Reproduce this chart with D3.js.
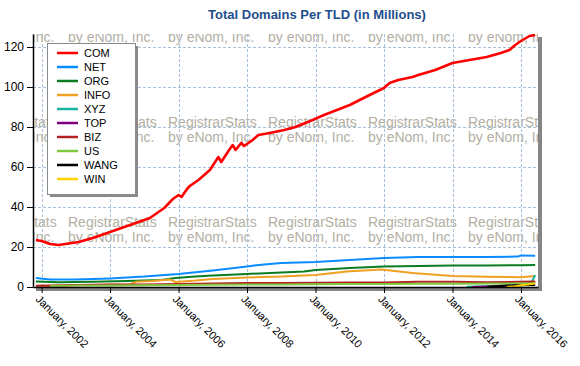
<!DOCTYPE html>
<html>
<head>
<meta charset="utf-8">
<script src="https://cdn.jsdelivr.net/npm/d3@7"></script>
<style>
  body { margin: 0; background: #fff; }
  svg { display: block; font-family: Arial, "Liberation Sans", sans-serif; }
</style>
</head>
<body>
<div id="chart"></div>
<script>
// values in millions of domains, [month, value]
const comValues = [["2001-11",23.5],["2002-01",23],["2002-04",21.5],["2002-07",21],["2003-02",22.5],["2003-07",24.5],
  ["2004-01",27.5],["2004-08",31],["2005-03",34.5],["2005-08",39.5],["2005-11",44],["2006-01",46],["2006-02",45],
  ["2006-04",49],["2006-05",50.5],["2006-08",53.5],["2006-12",58.5],["2007-03",65],["2007-04",62.5],["2007-07",69],
  ["2007-08",71],["2007-09",68.5],["2007-11",72],["2007-12",70.5],["2008-03",73.5],["2008-05",76],["2008-09",77],
  ["2009-02",78.5],["2009-06",80],["2009-12",83.5],["2010-04",86],["2011-01",91],["2011-08",96],["2012-01",99.5],
  ["2012-03",102],["2012-06",103.5],["2012-11",105],["2013-01",106],["2013-07",108.5],["2014-01",112],["2014-07",113.5],
  ["2015-01",115],["2015-06",117],["2015-09",118.5],["2015-11",121],["2016-01",123],["2016-04",125.5],["2016-06",126]];
const netValues = [["2001-11",4.5],["2002-04",3.8],["2003-01",3.7],["2004-01",4.3],["2005-01",5.2],["2006-01",6.5],
  ["2007-01",8.3],["2008-01",10.3],["2008-07",11.3],["2009-01",12],["2010-01",12.5],["2011-01",13.5],["2012-01",14.5],
  ["2013-01",15],["2014-01",15],["2015-01",15],["2015-12",15.2],["2016-01",15.8],["2016-06",15.6]];
const orgValues = [["2001-11",2.8],["2002-07",2.4],["2003-07",2.6],["2004-07",3.0],["2005-07",3.5],["2005-12",4.5],
  ["2006-07",5.2],["2007-01",5.8],["2008-01",6.5],["2009-01",7.3],["2009-09",7.8],["2010-01",8.5],["2011-01",9.5],
  ["2012-01",10.3],["2013-01",10.5],["2014-01",10.8],["2015-01",10.8],["2016-01",10.9],["2016-06",11]];
const infoValues = [["2001-11",0.5],["2002-01",0.6],["2003-01",0.9],["2004-01",1.1],["2004-08",1.3],["2004-10",2.6],
  ["2005-04",3.0],["2005-10",3.7],["2005-12",2.5],["2006-07",3.2],["2007-01",4.0],["2008-01",4.8],["2009-01",5.2],
  ["2010-01",6.0],["2010-12",7.7],["2011-12",8.8],["2012-11",7.0],["2014-01",5.5],["2015-01",5.1],["2016-01",4.9],["2016-06",5.5]];
const xyzValues = [["2014-06",0.1],["2015-01",0.4],["2015-07",0.6],["2016-01",1.0],["2016-04",2.2],["2016-05",3.0],["2016-06",6.0]];
const topValues = [["2014-08",0.05],["2015-01",0.2],["2015-07",0.5],["2016-01",1.2],["2016-06",2.5]];
const bizValues = [["2001-11",0.6],["2002-06",0.8],["2003-01",1.0],["2004-01",1.2],["2005-01",1.3],["2006-01",1.5],
  ["2007-01",1.8],["2008-01",2.0],["2009-01",2.0],["2010-01",2.1],["2011-01",2.2],["2012-01",2.3],["2013-01",2.6],
  ["2014-01",2.6],["2015-01",2.4],["2016-01",2.6],["2016-06",2.8]];
const usValues = [["2002-04",0.5],["2003-01",0.7],["2004-01",0.8],["2005-01",0.9],["2006-01",1.0],["2007-01",1.1],
  ["2008-01",1.2],["2009-01",1.3],["2010-01",1.4],["2011-01",1.5],["2012-01",1.5],["2013-01",1.6],["2014-01",1.6],
  ["2015-01",1.7],["2016-01",1.8],["2016-06",1.9]];
const wangValues = [["2015-01",0.05],["2015-03",0.3],["2015-06",0.6],["2015-09",0.8],["2016-01",0.9],["2016-06",1.0]];
const winValues = [["2015-08",0.05],["2015-11",0.4],["2016-01",0.9],["2016-04",1.4],["2016-06",1.7]];

const tldNames = ["COM","NET","ORG","INFO","XYZ","TOP","BIZ","US","WANG","WIN"];
const tldSeries = [comValues, netValues, orgValues, infoValues, xyzValues, topValues, bizValues, usValues, wangValues, winValues];
const tldColors = ["#ff0000","#0a8cff","#0a7d23","#f0a023","#1ab4a0","#800080","#b22222","#80c840","#000000","#ffd200"];
const yTicks = [0, 20, 40, 60, 80, 100, 120];
const xTickYears = [2002, 2004, 2006, 2008, 2010, 2012, 2014, 2016];

const width = 580, height = 366;
const plot = { left: 33, top: 34, right: 538, bottom: 287 };
const parseMonth = d3.timeParse("%Y-%m");

const svg = d3.select("#chart")
    .append("svg")
    .attr("width", width)
    .attr("height", height);

const x = d3.scaleTime()
    .domain([new Date(2001, 9, 1), new Date(2016, 6, 1)])
    .range([plot.left, plot.right]);

const y = d3.scaleLinear()
    .domain([0, 126.5])
    .range([plot.bottom, plot.top]);

svg.append("defs").append("clipPath")
    .attr("id", "plotClip")
    .append("rect")
    .attr("x", plot.left)
    .attr("y", plot.top)
    .attr("width", plot.right - plot.left)
    .attr("height", plot.bottom - plot.top);

// title
svg.append("text")
    .attr("x", 317)
    .attr("y", 19)
    .attr("text-anchor", "middle")
    .style("font-size", "13px")
    .style("font-weight", "bold")
    .style("fill", "#1f4e8c")
    .text("Total Domains Per TLD (in Millions)");

// plot shadow + background
svg.append("rect")
    .attr("x", plot.left + 3).attr("y", plot.top + 3)
    .attr("width", plot.right - plot.left + 1).attr("height", plot.bottom - plot.top + 1)
    .attr("fill", "#858585");
svg.append("rect")
    .attr("x", plot.left).attr("y", plot.top)
    .attr("width", plot.right - plot.left).attr("height", plot.bottom - plot.top)
    .attr("fill", "#fff");

// watermark tiles
const mark = svg.append("g")
    .attr("clip-path", "url(#plotClip)")
    .style("font-size", "14px")
    .style("fill", "#b3afa3");
for (let wx = -32; wx < plot.right; wx += 100) {
    for (let wy = 27; wy < plot.bottom + 20; wy += 100) {
        mark.append("text").attr("x", wx).attr("y", wy).text("RegistrarStats");
        mark.append("text").attr("x", wx).attr("y", wy + 15).text("by eNom, Inc.");
    }
}

const xTickDates = xTickYears.map(function(yr) { return new Date(yr, 0, 1); });

// grid
const grid = svg.append("g")
    .attr("stroke", "#a9c0db")
    .attr("stroke-width", 1)
    .attr("stroke-dasharray", "3,2");
grid.selectAll(".hgrid")
    .data(yTicks.filter(function(d) { return d > 0; }))
    .enter().append("line")
    .attr("x1", plot.left).attr("x2", plot.right)
    .attr("y1", function(d) { return Math.round(y(d)) + 0.5; })
    .attr("y2", function(d) { return Math.round(y(d)) + 0.5; });
grid.selectAll(".vgrid")
    .data(xTickDates)
    .enter().append("line")
    .attr("y1", plot.top).attr("y2", plot.bottom)
    .attr("x1", function(d) { return Math.round(x(d)) + 0.5; })
    .attr("x2", function(d) { return Math.round(x(d)) + 0.5; });

// series
const line = d3.line()
    .x(function(d) { return x(parseMonth(d[0])); })
    .y(function(d) { return y(d[1]); });

svg.append("g")
    .attr("clip-path", "url(#plotClip)")
    .selectAll("path")
    .data(tldSeries)
    .enter().append("path")
    .attr("d", line)
    .attr("fill", "none")
    .attr("stroke", function(d, i) { return tldColors[i]; })
    .attr("stroke-width", function(d, i) { return i === 0 ? 2.6 : 2; })
    .attr("stroke-linejoin", "round");

// axes
const yAxis = svg.append("g")
    .attr("transform", "translate(" + plot.left + ",0)")
    .call(d3.axisLeft(y).tickValues(yTicks).tickSize(6).tickPadding(3).tickSizeOuter(0));
yAxis.select(".domain").attr("stroke", "#000").attr("stroke-width", 1.5);
yAxis.selectAll("text").style("font-size", "12px").attr("fill", "#000");

const xAxis = svg.append("g")
    .attr("transform", "translate(0," + plot.bottom + ")")
    .call(d3.axisBottom(x).tickValues(xTickDates).tickSize(6).tickSizeOuter(0)
        .tickFormat(function(d) { return "January, " + d.getFullYear(); }));
xAxis.select(".domain").attr("stroke", "#000").attr("stroke-width", 1.5);
xAxis.selectAll("text")
    .style("font-size", "11px")
    .attr("fill", "#000")
    .attr("text-anchor", "start")
    .attr("dy", null)
    .attr("x", 2)
    .attr("y", 12)
    .attr("transform", "translate(0,3) rotate(45)");

// legend
const legend = svg.append("g").attr("transform", "translate(47,43)");
legend.append("rect")
    .attr("x", 3).attr("y", 3).attr("width", 88).attr("height", 151)
    .attr("fill", "#8a8a8a");
legend.append("rect")
    .attr("x", 0.5).attr("y", 0.5).attr("width", 88).attr("height", 151)
    .attr("fill", "#fff").attr("stroke", "#8a8a8a");

const item = legend.selectAll(".item")
    .data(tldNames)
    .enter().append("g")
    .attr("transform", function(d, i) { return "translate(0," + (10 + i * 14) + ")"; });
item.append("line")
    .attr("x1", 10).attr("x2", 31)
    .attr("stroke", function(d, i) { return tldColors[i]; })
    .attr("stroke-width", 2.5);
item.append("text")
    .attr("x", 37)
    .attr("dy", "0.36em")
    .style("font-size", "11px")
    .attr("fill", "#000")
    .text(function(d) { return d; });
</script>
</body>
</html>
